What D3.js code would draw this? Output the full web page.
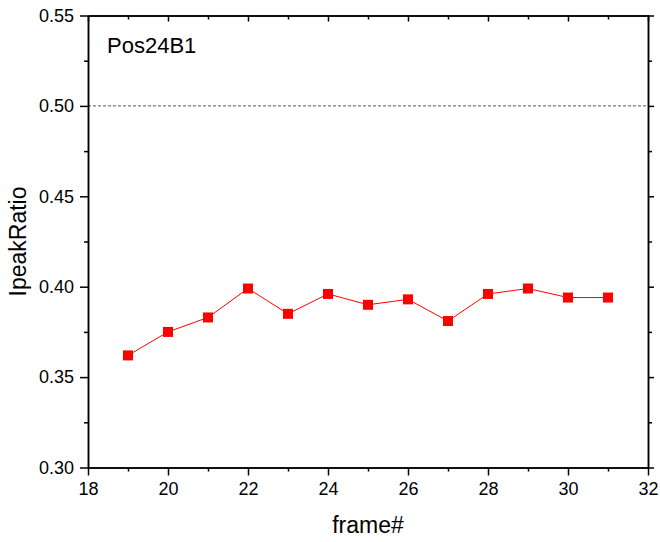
<!DOCTYPE html>
<html><head><meta charset="utf-8">
<script src="https://cdn.jsdelivr.net/npm/d3@7"></script>
<style>body{margin:0;background:#fff}svg{display:block}text{font-family:"Liberation Sans",Arial,sans-serif;fill:#000}</style>
</head><body>
<script>
const frames = [19,20,21,22,23,24,25,26,27,28,29,30,31];
const ratios = [0.362,0.375,0.383,0.399,0.385,0.396,0.390,0.393,0.381,0.396,0.399,0.394,0.394];
const xTicks = [18,20,22,24,26,28,30,32];
const xMinor = [19,21,23,25,27,29,31];
const yTicks = [0.30,0.35,0.40,0.45,0.50,0.55];
const yMinor = [0.325,0.375,0.425,0.475,0.525];
const refLine = 0.50;
const label = "Pos24B1";

const W=660,H=542, L=88, R=648, T=15.5, B=467.5;
const svg=d3.select("body").append("svg").attr("width",W).attr("height",H);
const x=d3.scaleLinear().domain([18,32]).range([L,R]);
const y=d3.scaleLinear().domain([0.30,0.55]).range([B,T]);

svg.append("line").attr("x1",L).attr("x2",R).attr("y1",y(refLine)).attr("y2",y(refLine))
  .attr("stroke","#555").attr("stroke-width",1).attr("stroke-dasharray","3,2");

function styleAxis(g){g.select(".domain").attr("stroke","#000").attr("stroke-width",1.5);
  g.selectAll(".tick line").attr("stroke","#000").attr("stroke-width",1.5);
  g.selectAll("text").style("font-size","18px").style("font-family","Liberation Sans, Arial, sans-serif");}

svg.append("g").attr("transform",`translate(0,${B})`)
  .call(d3.axisBottom(x).tickValues(xTicks).tickFormat(d3.format("d")).tickSizeOuter(0).tickSizeInner(8).tickPadding(7))
  .call(styleAxis);
svg.append("g").attr("transform",`translate(0,${B})`)
  .call(d3.axisBottom(x).tickValues(xMinor).tickFormat("").tickSizeOuter(0).tickSizeInner(4))
  .call(styleAxis);
svg.append("g").attr("transform",`translate(0,${T})`)
  .call(d3.axisBottom(x).tickValues(xTicks).tickFormat("").tickSizeOuter(0).tickSizeInner(6))
  .call(styleAxis);
svg.append("g").attr("transform",`translate(0,${T})`)
  .call(d3.axisBottom(x).tickValues(xMinor).tickFormat("").tickSizeOuter(0).tickSizeInner(4))
  .call(styleAxis);
svg.append("g").attr("transform",`translate(${L},0)`)
  .call(d3.axisLeft(y).tickValues(yTicks).tickFormat(d3.format(".2f")).tickSizeOuter(0).tickSizeInner(8).tickPadding(6))
  .call(styleAxis);
svg.append("g").attr("transform",`translate(${L},0)`)
  .call(d3.axisLeft(y).tickValues(yMinor).tickFormat("").tickSizeOuter(0).tickSizeInner(4))
  .call(styleAxis);
svg.append("g").attr("transform",`translate(${R},0)`)
  .call(d3.axisLeft(y).tickValues(yTicks).tickFormat("").tickSizeOuter(0).tickSizeInner(-6))
  .call(styleAxis);
svg.append("g").attr("transform",`translate(${R},0)`)
  .call(d3.axisLeft(y).tickValues(yMinor).tickFormat("").tickSizeOuter(0).tickSizeInner(-4))
  .call(styleAxis);

const line=d3.line().x((d,i)=>x(frames[i])).y(d=>y(d));
svg.append("path").datum(ratios).attr("d",line).attr("fill","none").attr("stroke","#ff0000").attr("stroke-width",1);
svg.selectAll("rect.pt").data(ratios).join("rect").attr("class","pt")
  .attr("x",(d,i)=>x(frames[i])-5).attr("y",d=>y(d)-5).attr("width",10).attr("height",10).attr("fill","#ff0000");

svg.append("text").attr("x",107).attr("y",53).style("font-size","22px").text(label);
svg.append("text").attr("x",(L+R)/2).attr("y",533).attr("text-anchor","middle").style("font-size","23px").text("frame#");
svg.append("text").attr("transform",`translate(26,${(T+B)/2}) rotate(-90)`).attr("text-anchor","middle").style("font-size","23px").text("IpeakRatio");
</script>
</body></html>
